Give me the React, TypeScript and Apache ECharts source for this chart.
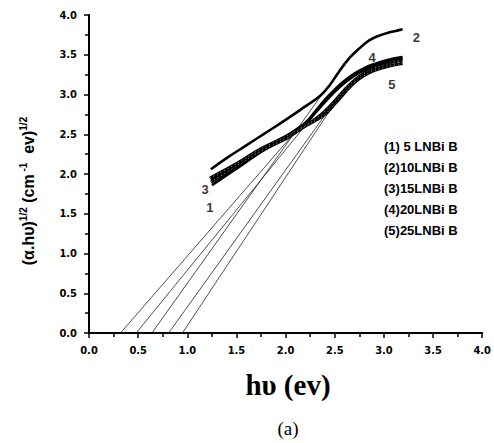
import React, { useEffect, useRef } from "react";
import * as echarts from "echarts";

// Curve data (hν in eV, (αhν)^1/2)
const curve2X = [1.24, 1.4, 1.6, 1.8, 2.0, 2.2, 2.35, 2.45, 2.55, 2.65, 2.75, 2.85, 2.95, 3.05, 3.12, 3.19];
const curve2Y = [2.06, 2.2, 2.36, 2.52, 2.68, 2.85, 2.98, 3.12, 3.3, 3.46, 3.58, 3.68, 3.74, 3.78, 3.8, 3.82];
const curve1X = [1.25, 1.5, 1.75, 2.0, 2.1, 2.2, 2.3, 2.4, 2.5, 2.6, 2.7, 2.8, 2.9, 3.0, 3.1, 3.19];
const curve1Y = [1.86, 2.07, 2.28, 2.46, 2.54, 2.63, 2.77, 2.91, 3.04, 3.15, 3.24, 3.31, 3.36, 3.4, 3.43, 3.45];
const curve3X = [1.23, 1.5, 1.75, 2.0, 2.1, 2.2, 2.3, 2.4, 2.5, 2.6, 2.7, 2.8, 2.9, 3.0, 3.1, 3.19];
const curve3Y = [1.95, 2.13, 2.32, 2.47, 2.54, 2.61, 2.69, 2.79, 2.92, 3.06, 3.18, 3.27, 3.33, 3.37, 3.41, 3.43];
const curve4X = [1.24, 1.5, 1.75, 2.0, 2.1, 2.2, 2.3, 2.4, 2.5, 2.6, 2.7, 2.8, 2.9, 3.0, 3.1, 3.19];
const curve4Y = [1.93, 2.11, 2.3, 2.47, 2.55, 2.64, 2.78, 2.93, 3.06, 3.17, 3.26, 3.33, 3.38, 3.42, 3.45, 3.47];
const curve5X = [1.24, 1.5, 1.75, 2.0, 2.1, 2.2, 2.3, 2.4, 2.5, 2.6, 2.7, 2.8, 2.9, 3.0, 3.1, 3.19];
const curve5Y = [1.9, 2.1, 2.29, 2.44, 2.52, 2.6, 2.67, 2.75, 2.88, 3.02, 3.15, 3.24, 3.3, 3.34, 3.37, 3.39];

// Tangent (extrapolation) lines: intercept -> end point
const tangentStartX = [0.32, 0.48, 0.64, 0.81, 0.95];
const tangentEndX = [2.12, 2.22, 2.38, 2.4, 2.44];
const tangentEndY = [2.56, 2.64, 3.02, 2.74, 2.78];

// Curve number labels
const curveLabelText = ["2", "4", "5", "3", "1"];
const curveLabelX = [3.33, 2.88, 3.08, 1.18, 1.23];
const curveLabelY = [3.72, 3.46, 3.12, 1.8, 1.58];

const legendItems = ["(1) 5 LNBi B", "(2)10LNBi B", "(3)15LNBi B", "(4)20LNBi B", "(5)25LNBi B"];

const zip = (xs: number[], ys: number[]) => xs.map((x, i) => [x, ys[i]]);

export default function App() {
  const ref = useRef<HTMLDivElement>(null);
  useEffect(() => {
    if (!ref.current) return;
    const chart = echarts.init(ref.current, undefined, { renderer: "svg" });
    const curves = [
      { x: curve2X, y: curve2Y, w: 2.6 },
      { x: curve1X, y: curve1Y, w: 3 },
      { x: curve3X, y: curve3Y, w: 3 },
      { x: curve4X, y: curve4Y, w: 3 },
      { x: curve5X, y: curve5Y, w: 3 },
    ];
    const series: any[] = [];
    tangentStartX.forEach((sx, i) => {
      series.push({
        type: "line",
        data: [
          [sx, 0],
          [tangentEndX[i], tangentEndY[i]],
        ],
        showSymbol: false,
        lineStyle: { color: "#222", width: 0.8 },
        silent: true,
      });
    });
    curves.forEach((c) => {
      series.push({
        type: "line",
        data: zip(c.x, c.y),
        showSymbol: false,
        smooth: 0.4,
        lineStyle: { color: "#000", width: c.w },
        silent: true,
      });
    });
    [curve3X, curve5X].forEach((xs, k) => {
      const ys = k === 0 ? curve3Y : curve5Y;
      series.push({
        type: "line",
        data: zip(xs, ys),
        showSymbol: false,
        smooth: 0.4,
        lineStyle: { color: "#ccc", width: 0.8, type: [1, 3] },
        silent: true,
      });
    });
    series.push({
      type: "scatter",
      symbolSize: 0,
      data: curveLabelX.map((x, i) => [x, curveLabelY[i], curveLabelText[i]]),
      label: {
        show: true,
        position: "inside",
        formatter: (p: any) => p.data[2],
        color: "#000",
        fontWeight: "bold",
        fontSize: 13,
        fontFamily: "Liberation Sans",
      },
      silent: true,
    });

    const labelFont = "'DejaVu Sans Condensed', 'Liberation Sans Narrow', 'Liberation Sans'";
    const axisCommon = {
      type: "value",
      min: 0,
      max: 4,
      interval: 0.5,
      axisLine: { show: true, lineStyle: { color: "#000", width: 2 } },
      axisTick: { show: true, length: 5, lineStyle: { color: "#000", width: 1.5 } },
      minorTick: { show: true, splitNumber: 2, length: 4, lineStyle: { color: "#000", width: 1.5 } },
      splitLine: { show: false },
      axisLabel: {
        color: "#000",
        fontWeight: "bold",
        fontSize: 11,
        fontFamily: labelFont,
        formatter: (v: number) => v.toFixed(1),
      },
    };

    chart.setOption({
      animation: false,
      backgroundColor: "#fff",
      grid: { left: 89, right: 7, top: 15, bottom: 110 },
      xAxis: { ...axisCommon, axisLabel: { ...axisCommon.axisLabel, margin: 12 } },
      yAxis: { ...axisCommon, axisLabel: { ...axisCommon.axisLabel, margin: 12 } },
      series,
      graphic: [
        {
          type: "text",
          x: 28,
          y: 191,
          rotation: Math.PI / 2,
          style: {
            text: "{m|(α.hυ)}{s|1/2}{m| (cm}{s| -1}{m|  ev)}{s|1/2}",
            align: "center",
            verticalAlign: "middle",
            rich: {
              m: { fontSize: 16, fontWeight: "bold", fontFamily: "Liberation Sans", fill: "#000" },
              s: { fontSize: 10, fontWeight: "bold", fontFamily: "Liberation Sans", fill: "#000", verticalAlign: "top", padding: [0, 0, 9, 0] },
            },
          },
        },
        {
          type: "text",
          x: 288,
          y: 385,
          style: {
            text: "hυ (ev)",
            align: "center",
            verticalAlign: "middle",
            fontSize: 29,
            fontWeight: "bold",
            fontFamily: "Liberation Serif",
            fill: "#000",
          },
        },
        {
          type: "text",
          x: 288,
          y: 428,
          style: {
            text: "(a)",
            align: "center",
            verticalAlign: "middle",
            fontSize: 19,
            fontFamily: "Liberation Serif",
            fill: "#000",
          },
        },
        ...legendItems.map((t, i) => ({
          type: "text",
          x: 384,
          y: 146 + i * 21,
          style: {
            text: t,
            align: "left",
            verticalAlign: "middle",
            fontSize: 13,
            fontWeight: "bold",
            fontFamily: "Liberation Sans",
            fill: "#000",
          },
        })),
      ],
    });
    return () => chart.dispose();
  }, []);
  return <div ref={ref} style={{ position: "absolute", left: 0, top: 0, width: 494, height: 443 }} />;
}
